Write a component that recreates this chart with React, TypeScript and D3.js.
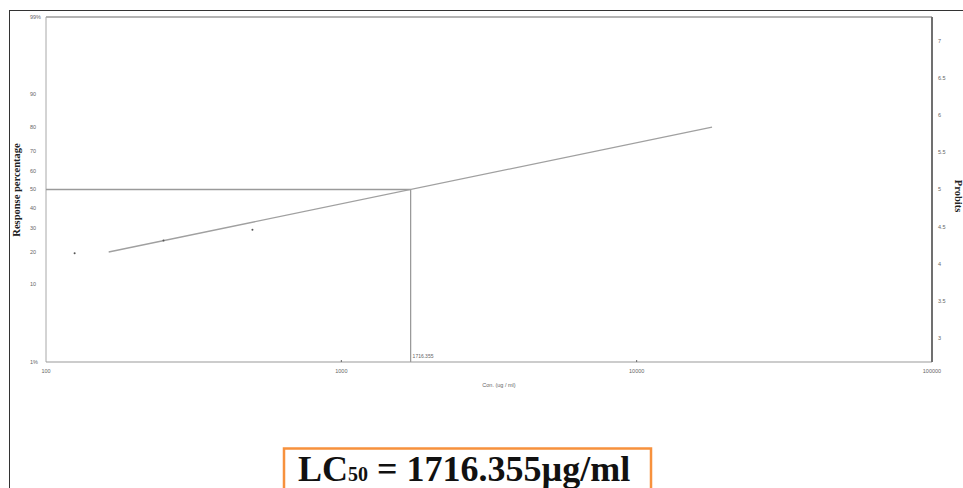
import * as d3 from "d3";

// observed points (conc µg/ml, % response)
const concentrations = [125, 250, 500];
const responses = [19.5, 24.6, 29.4];

// fitted probit regression line, read at its two ends
const fitConc = [163, 18000];
const fitProbit = [4.157, 5.842];

const LC50 = 1716.355;

const percentTicks = [1, 10, 20, 30, 40, 50, 60, 70, 80, 90, 99];
const probitTicks = [3, 3.5, 4, 4.5, 5, 5.5, 6, 6.5, 7];
const concTicks = [100, 1000, 10000, 100000];

// inverse normal cdf (Acklam) + 5 -> probit
function probit(p: number): number {
  const a = [-39.6968302866538, 220.946098424521, -275.928510446969, 138.357751867269, -30.6647980661472, 2.50662827745924];
  const b = [-54.4760987982241, 161.585836858041, -155.698979859887, 66.8013118877197, -13.2806815528857];
  const c = [-0.00778489400243029, -0.322396458041136, -2.40075827716184, -2.54973253934373, 4.37466414146497, 2.93816398269878];
  const d = [0.00778469570904146, 0.32246712907004, 2.445134137143, 3.75440866190742];
  const pl = 0.02425;
  let z: number;
  if (p < pl) {
    const q = Math.sqrt(-2 * Math.log(p));
    z = (((((c[0] * q + c[1]) * q + c[2]) * q + c[3]) * q + c[4]) * q + c[5]) / ((((d[0] * q + d[1]) * q + d[2]) * q + d[3]) * q + 1);
  } else if (p <= 1 - pl) {
    const q = p - 0.5;
    const r = q * q;
    z = ((((((a[0] * r + a[1]) * r + a[2]) * r + a[3]) * r + a[4]) * r + a[5]) * q) / (((((b[0] * r + b[1]) * r + b[2]) * r + b[3]) * r + b[4]) * r + 1);
  } else {
    const q = Math.sqrt(-2 * Math.log(1 - p));
    z = -(((((c[0] * q + c[1]) * q + c[2]) * q + c[3]) * q + c[4]) * q + c[5]) / ((((d[0] * q + d[1]) * q + d[2]) * q + d[3]) * q + 1);
  }
  return z + 5;
}

const W = 963;
const H = 488;
const left = 46;
const right = 932;
const top = 17;
const bottom = 362;

export default function App() {
  const x = d3.scaleLog().domain([100, 100000]).range([left, right]);
  const y = d3.scaleLinear().domain([probit(0.01), probit(0.99)]).range([bottom, top]);

  const fitLine = d3
    .line<number>()
    .x((_, i) => x(fitConc[i]))
    .y((p) => y(p))(fitProbit);

  const lcX = x(LC50);
  const lcY = y(5);

  const tickFont = "'Liberation Sans', Arial, sans-serif";
  const serif = "'Liberation Serif', 'Times New Roman', serif";

  return (
    <svg
      width={W}
      height={H}
      style={{ position: "fixed", left: 0, top: 0, background: "#fff" }}
    >
      {/* outer frame */}
      <line x1={9} x2={W} y1={10.5} y2={10.5} stroke="#333" strokeWidth={1} />
      <line x1={9.5} x2={9.5} y1={10} y2={H} stroke="#333" strokeWidth={1} />

      {/* plot frame */}
      <line x1={left} x2={right} y1={top} y2={top} stroke="#9a9a9a" strokeWidth={1.5} />
      <line x1={left} x2={left} y1={top} y2={bottom} stroke="#a8a8a8" strokeWidth={1} />
      <line x1={left} x2={right} y1={bottom} y2={bottom} stroke="#9a9a9a" strokeWidth={1.2} />
      <line x1={right} x2={right} y1={top} y2={bottom} stroke="#707070" strokeWidth={2} />

      {/* minor decade marks on x axis */}
      {concTicks.slice(1, -1).map((t) => (
        <line key={t} x1={x(t)} x2={x(t)} y1={bottom - 2} y2={bottom} stroke="#666" strokeWidth={1} />
      ))}

      {/* left % ticks */}
      {percentTicks.map((p) => (
        <text
          key={p}
          x={30}
          y={y(probit(p / 100))}
          dy="0.35em"
          fontSize={5.5}
          fill="#666"
          fontFamily={tickFont}
        >
          {p === 1 || p === 99 ? `${p}%` : p}
        </text>
      ))}

      {/* right probit ticks */}
      {probitTicks.map((p) => (
        <text
          key={p}
          x={938}
          y={y(p)}
          dy="0.35em"
          fontSize={5.5}
          fill="#666"
          fontFamily={tickFont}
        >
          {p}
        </text>
      ))}

      {/* x ticks */}
      {concTicks.map((t) => (
        <text
          key={t}
          x={x(t)}
          y={373}
          textAnchor="middle"
          fontSize={5.5}
          fill="#666"
          fontFamily={tickFont}
        >
          {t}
        </text>
      ))}

      <text x={499} y={387} textAnchor="middle" fontSize={5.5} fill="#666" fontFamily={tickFont}>
        Con. (ug / ml)
      </text>

      {/* axis titles */}
      <text
        transform={`translate(20,190) rotate(-90)`}
        textAnchor="middle"
        fontSize={10.5}
        fontWeight="bold"
        fill="#222"
        fontFamily={serif}
      >
        Response percentage
      </text>
      <text
        transform={`translate(955,196) rotate(90)`}
        textAnchor="middle"
        fontSize={10.5}
        fontWeight="bold"
        fill="#222"
        fontFamily={serif}
      >
        Probits
      </text>

      {/* LC50 guide lines */}
      <line x1={left} x2={lcX} y1={lcY} y2={lcY} stroke="#9a9a9a" strokeWidth={1.3} />
      <line x1={lcX} x2={lcX} y1={lcY} y2={bottom} stroke="#9a9a9a" strokeWidth={1.3} />
      <text x={lcX + 2} y={358} fontSize={5} fill="#666" fontFamily={tickFont}>
        {LC50}
      </text>

      {/* regression line */}
      <path d={fitLine ?? ""} fill="none" stroke="#a0a0a0" strokeWidth={1.3} />

      {/* observed points */}
      {concentrations.map((c, i) => (
        <circle key={c} cx={x(c)} cy={y(probit(responses[i] / 100))} r={1} fill="#555" />
      ))}

      {/* LC50 callout */}
      <rect x={284} y={448.5} width={367} height={60} fill="#fff" stroke="#f7913d" strokeWidth={2.5} />
      <text x={298} y={481} fontSize={36} fontWeight="bold" fill="#111" fontFamily={serif}>
        LC
        <tspan fontSize={20}>50</tspan>
        <tspan> = 1716.355µg/ml</tspan>
      </text>
    </svg>
  );
}
